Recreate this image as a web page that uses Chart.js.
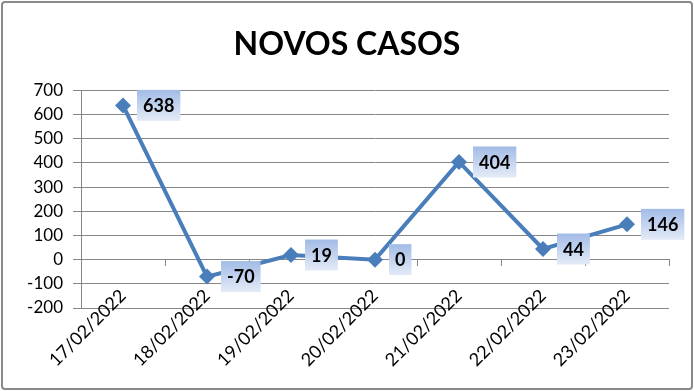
<!DOCTYPE html>
<html>
<head>
<meta charset="utf-8">
<script src="https://cdn.jsdelivr.net/npm/chart.js@4"></script>
<style>
  html, body { margin: 0; padding: 0; background: #fff; }
  #wrap { position: relative; width: 694px; height: 391px; }
  #frame { position: absolute; left: 1px; top: 1px; width: 688px; height: 385px;
           border: 2px solid #8a8a8a; border-radius: 4px; pointer-events: none; }
  canvas { position: absolute; left: 0; top: 0; }
</style>
</head>
<body>
<div id="wrap">
  <canvas id="c" width="694" height="391"></canvas>
  <div id="frame"></div>
</div>
<script>
const titleText = "NOVOS CASOS";
const categories = ["17/02/2022", "18/02/2022", "19/02/2022", "20/02/2022", "21/02/2022", "22/02/2022", "23/02/2022"];
const newCases = [638, -70, 19, 0, 404, 44, 146];
const yMin = -200;
const yMax = 700;
const yStep = 100;

const FONT = "Lato, 'Open Sans', 'Liberation Sans', sans-serif";
const LINE_COLOR = '#4A7EBB';
const GRID_COLOR = '#868686';

const boxLabels = {
  id: 'boxLabels',
  afterDatasetsDraw(chart) {
    const ctx = chart.ctx;
    const meta = chart.getDatasetMeta(0);
    const data = chart.data.datasets[0].data;
    ctx.save();
    ctx.font = "bold 18px " + FONT;
    ctx.textBaseline = 'middle';
    ctx.textAlign = 'left';
    meta.data.forEach((el, i) => {
      const txt = String(data[i]);
      const w = ctx.measureText(txt).width + 12;
      const h = 31;
      const bx = el.x + 14;
      const by = el.y - h / 2;
      const g = ctx.createLinearGradient(0, by, 0, by + h);
      g.addColorStop(0, '#A2BBE6');
      g.addColorStop(1, '#E4EBF7');
      ctx.fillStyle = g;
      ctx.fillRect(bx, by, w, h);
      ctx.fillStyle = '#000';
      ctx.fillText(txt, bx + 6, el.y + 1);
    });
    ctx.restore();
  }
};

new Chart(document.getElementById('c'), {
  type: 'line',
  data: {
    labels: categories,
    datasets: [{
      data: newCases,
      borderColor: LINE_COLOR,
      backgroundColor: LINE_COLOR,
      borderWidth: 4,
      tension: 0,
      pointStyle: 'rectRot',
      pointRadius: 8,
      pointBorderWidth: 0,
      pointBackgroundColor: LINE_COLOR,
      pointBorderColor: LINE_COLOR,
      clip: false
    }]
  },
  options: {
    responsive: false,
    animation: false,
    layout: { padding: { left: 25, right: 25, top: 0, bottom: 83 } },
    plugins: {
      legend: { display: false },
      tooltip: { enabled: false },
      title: {
        display: true,
        text: titleText,
        color: '#000',
        font: { family: FONT, size: 32, weight: 'bold' },
        padding: { top: 25, bottom: 27 }
      }
    },
    scales: {
      x: {
        type: 'category',
        position: { y: yMin },
        offset: true,
        grid: { display: false, drawTicks: false },
        border: { display: false },
        ticks: {
          color: '#000',
          font: { family: FONT, size: 18 },
          minRotation: 45,
          maxRotation: 45,
          autoSkip: false,
          padding: -23
        }
      },
      x0: {
        type: 'category',
        labels: categories,
        position: { y: 0 },
        offset: true,
        grid: { offset: true, drawOnChartArea: false, drawTicks: true, tickLength: 6, color: GRID_COLOR },
        border: { display: true, color: GRID_COLOR, width: 1 },
        ticks: { display: false }
      },
      y: {
        min: yMin,
        max: yMax,
        ticks: {
          stepSize: yStep,
          color: '#000',
          font: { family: FONT, size: 17 },
          padding: 10
        },
        grid: { color: GRID_COLOR, tickLength: 8, drawTicks: true },
        border: { display: true, color: GRID_COLOR },
        afterFit(scale) { scale.width = 56; }
      }
    }
  },
  plugins: [boxLabels]
});
</script>
</body>
</html>
